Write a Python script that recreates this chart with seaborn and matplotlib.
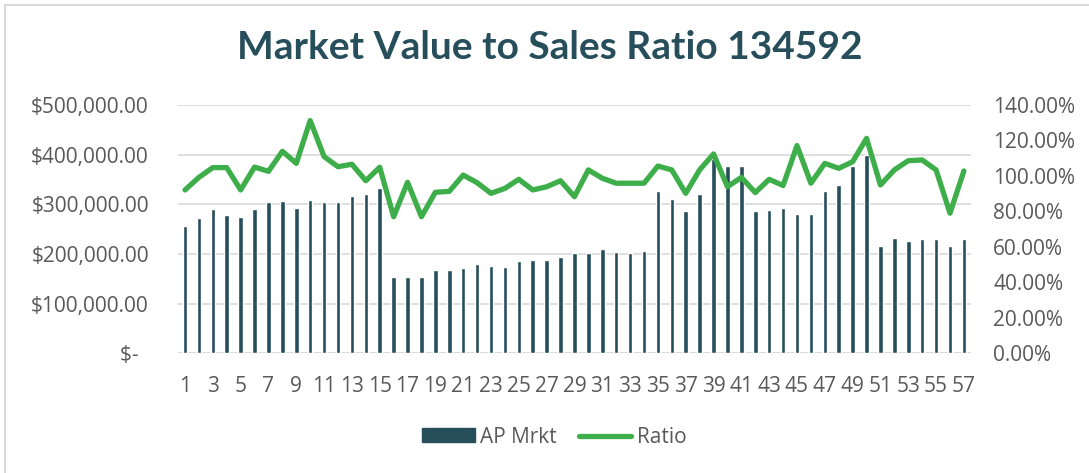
import numpy as np
import pandas as pd
import seaborn as sns
import matplotlib.pyplot as plt
from matplotlib.patches import Patch, Rectangle
from matplotlib.lines import Line2D
from matplotlib.ticker import FuncFormatter, MultipleLocator

# values
periods = list(range(1, 58))
ap_mrkt = [256000, 271600, 290000, 278000, 275000, 290000, 305000, 306000, 292000, 309000,
           304000, 305000, 316500, 320500, 332000, 153000, 153000, 153000, 167000, 167000,
           171000, 179000, 175700, 174000, 185000, 187000, 187000, 193800, 201800, 201800,
           209900, 203000, 201800, 205800, 326600, 309800, 286300, 320000, 392000, 376900,
           376900, 287000, 288300, 292400, 279700, 279700, 326600, 338600, 376900, 398400,
           215900, 231400, 226600, 229400, 229400, 216500, 229400]
ratio_pct = [92.1, 99.2, 104.7, 104.7, 92.1, 105.0, 102.6, 113.9, 107.1, 131.2,
             110.9, 105.2, 106.6, 97.3, 104.9, 77.0, 96.4, 77.0, 90.8, 91.3,
             100.5, 96.2, 90.2, 93.0, 98.1, 92.1, 93.9, 97.3, 88.3, 103.4,
             98.7, 95.9, 95.9, 95.9, 105.6, 103.4, 90.2, 103.4, 112.4, 93.9,
             99.2, 90.6, 98.1, 94.6, 117.1, 95.9, 107.1, 104.3, 108.0, 121.2,
             94.9, 103.4, 108.6, 109.0, 103.4, 79.0, 102.8]

bar_color = '#264E5B'
line_color = '#3DAE49'
text_color = '#595959'
grid_color = '#D9D9D9'

df = pd.DataFrame({'Period': periods, 'AP Mrkt': ap_mrkt,
                   'Ratio': np.array(ratio_pct) / 100})
df['pos'] = np.arange(len(df))

sns.set_style('white')
plt.rcParams['font.family'] = ['Open Sans', 'DejaVu Sans']

fig = plt.figure(figsize=(10.89, 4.73), dpi=100)
ax = fig.add_axes([0.1635, 0.2531, 0.728, 0.5249])

# bars on the left axis
sns.barplot(data=df, x='Period', y='AP Mrkt', color=bar_color, width=0.33,
            saturation=1, ax=ax, zorder=2)
ax.set_ylim(0, 500000)
ax.set_xlim(-0.5, len(df) - 0.5)
ax.yaxis.set_major_locator(MultipleLocator(100000))
ax.yaxis.set_major_formatter(FuncFormatter(
    lambda v, p: '$-  ' if v == 0 else '${:,.2f}'.format(v)))
ax.grid(axis='y', color=grid_color, linewidth=1.2, zorder=0)
ax.set_axisbelow(True)
ax.set_xticks(df['pos'][::2])
ax.set_xticklabels(df['Period'][::2])
ax.set_xlabel('')
ax.set_ylabel('')
ax.tick_params(axis='y', length=0, pad=21, labelsize=15, labelcolor=text_color)
ax.tick_params(axis='x', length=0, pad=16, labelsize=15, labelcolor=text_color)
for s in ax.spines.values():
    s.set_visible(False)
ax.axhline(0, color=grid_color, linewidth=1.2, zorder=1)

# ratio line on the right axis
ax2 = ax.twinx()
sns.lineplot(data=df, x='pos', y='Ratio', color=line_color, linewidth=3.8,
             ax=ax2, solid_capstyle='round', solid_joinstyle='round')
ax2.set_ylim(0, 1.4)
ax2.yaxis.set_major_locator(MultipleLocator(0.2))
ax2.yaxis.set_major_formatter(FuncFormatter(lambda v, p: '{:.2f}%'.format(v * 100)))
ax2.set_ylabel('')
ax2.set_xlabel('')
ax2.tick_params(axis='y', length=0, pad=16, labelsize=15, labelcolor=text_color)
for s in ax2.spines.values():
    s.set_visible(False)

fig.text(0.505, 0.9, 'Market Value to Sales Ratio 134592', ha='center', va='center',
         fontsize=28, fontweight='bold', color=bar_color, family=['Lato', 'DejaVu Sans'])

handles = [Patch(facecolor=bar_color, edgecolor=bar_color),
           Line2D([0], [0], color=line_color, linewidth=3.8, solid_capstyle='round')]
fig.legend(handles, ['AP Mrkt', 'Ratio'], loc='center', bbox_to_anchor=(0.509, 0.076),
           ncol=2, frameon=False, fontsize=15, labelcolor=text_color,
           handlelength=2.5, handleheight=0.62, handletextpad=0.25, columnspacing=1.1)

# chart area border
fig.patches.append(Rectangle((5 / 1089, -0.1), 1.2, 1 - 5 / 473 + 0.1,
                             transform=fig.transFigure, fill=False,
                             edgecolor=grid_color, linewidth=1.5))

fig.savefig('out.png', dpi=100)
